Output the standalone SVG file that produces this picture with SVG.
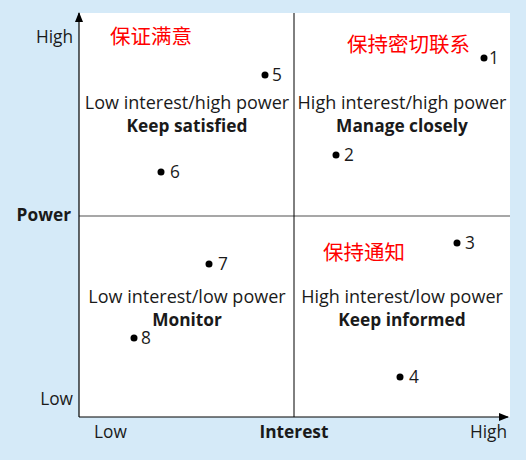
<svg xmlns="http://www.w3.org/2000/svg" width="526" height="460" viewBox="0 0 526 460">
<style>
.t{font-family:"Open Sans","Noto Sans","Liberation Sans",sans-serif;font-size:17.3px;fill:#1a1a1a}
.q{font-size:18px}
.b{font-weight:bold}
.c{text-anchor:middle}
.r{text-anchor:end}
.zh{font-family:"Noto Sans CJK SC",sans-serif;font-size:20.5px;fill:#ff0000}
.dot{fill:#000}
</style>
<defs>
<marker id="ah" markerWidth="10" markerHeight="8" refX="9" refY="4" orient="auto" markerUnits="userSpaceOnUse">
<path d="M0,0 L10,4 L0,8 Z" fill="#000"/>
</marker>
</defs>
<rect x="0" y="0" width="526" height="460" fill="#d5eaf8"/>
<rect x="79" y="13" width="431" height="404" fill="#fff"/>
<g id="connectors">
<line x1="79" y1="216" x2="510" y2="216" stroke="#8a8a8a" stroke-width="1.5"/>
<line x1="294" y1="13" x2="294" y2="417" stroke="#000" stroke-width="1"/>
<line x1="79" y1="417" x2="79" y2="13" stroke="#000" stroke-width="1.2" marker-end="url(#ah)"/>
<line x1="79" y1="417" x2="508" y2="417" stroke="#000" stroke-width="1.2" marker-end="url(#ah)"/>
</g>
<g id="axis-labels">
<text class="t r" x="73" y="43">High</text>
<text class="t r b" x="71" y="221">Power</text>
<text class="t r" x="73" y="405">Low</text>
<text class="t" x="94" y="438">Low</text>
<text class="t c b" x="294" y="438">Interest</text>
<text class="t r" x="507" y="438">High</text>
</g>
<g id="q1">
<text class="zh" x="110" y="44">保证满意</text>
<text class="t q c" x="187" y="109">Low interest/high power</text>
<text class="t c b" x="187" y="132">Keep satisfied</text>
</g>
<g id="q2">
<text class="zh" x="347" y="52">保持密切联系</text>
<text class="t q c" x="402" y="109">High interest/high power</text>
<text class="t c b" x="402" y="132">Manage closely</text>
</g>
<g id="q3">
<text class="t q c" x="187" y="303">Low interest/low power</text>
<text class="t c b" x="187" y="326">Monitor</text>
</g>
<g id="q4">
<text class="zh" x="323" y="260">保持通知</text>
<text class="t q c" x="402" y="303">High interest/low power</text>
<text class="t c b" x="402" y="326">Keep informed</text>
</g>
<g id="p1"><circle class="dot" cx="484" cy="58" r="3.5"/><text class="t" x="489" y="64">1</text></g>
<g id="p2"><circle class="dot" cx="336" cy="155" r="3.5"/><text class="t" x="344" y="161">2</text></g>
<g id="p3"><circle class="dot" cx="457" cy="243" r="3.5"/><text class="t" x="465" y="249">3</text></g>
<g id="p4"><circle class="dot" cx="400" cy="377" r="3.5"/><text class="t" x="409" y="383">4</text></g>
<g id="p5"><circle class="dot" cx="265" cy="75" r="3.5"/><text class="t" x="272" y="81">5</text></g>
<g id="p6"><circle class="dot" cx="161" cy="172" r="3.5"/><text class="t" x="170" y="178">6</text></g>
<g id="p7"><circle class="dot" cx="209" cy="264" r="3.5"/><text class="t" x="218" y="270">7</text></g>
<g id="p8"><circle class="dot" cx="134" cy="338" r="3.5"/><text class="t" x="141" y="344">8</text></g>
</svg>
